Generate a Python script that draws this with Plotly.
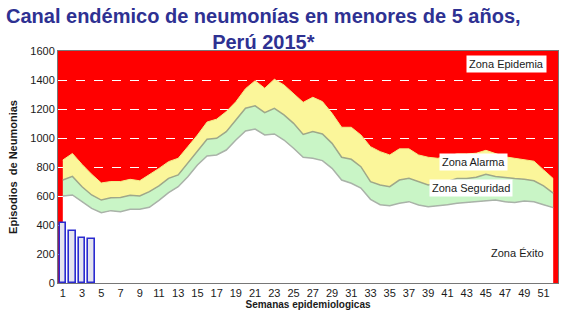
import plotly.graph_objects as go

# Semanas epidemiológicas
semanas = list(range(1, 53))

# Límite superior de la zona de éxito (percentil inferior)
limite_exito = [600, 607, 561, 515, 485, 499, 492, 508, 508, 522,
                570, 623, 664, 733, 814, 876, 883, 917, 986, 1048,
                1062, 1021, 1028, 986, 929, 867, 860, 844, 791, 710,
                688, 655, 577, 540, 533, 550, 561, 538, 526, 531,
                540, 550, 555, 560, 570, 572, 560, 555, 565, 560,
                540, 520]

# Límite superior de la zona de seguridad (mediana)
limite_seguridad = [710, 735, 664, 607, 572, 588, 590, 605, 600, 630,
                    670, 722, 745, 826, 906, 991, 998, 1044, 1124, 1205,
                    1222, 1175, 1205, 1159, 1101, 1025, 1044, 1028, 963, 867,
                    853, 802, 699, 676, 664, 710, 722, 699, 676, 690,
                    700, 720, 720, 730, 750, 735, 725, 720, 715, 705,
                    670, 620]

# Límite superior de la zona de alarma (umbral epidémico)
limite_alarma = [848, 893, 818, 750, 690, 700, 700, 715, 705, 745,
                 790, 837, 860, 940, 1020, 1110, 1130, 1182, 1250, 1340,
                 1395, 1343, 1405, 1366, 1308, 1246, 1281, 1251, 1170, 1074,
                 1074, 1021, 940, 906, 883, 925, 925, 883, 867, 860,
                 875, 890, 890, 895, 915, 890, 870, 860, 850, 840,
                 780, 720]

# Episodios notificados en 2015
semanas_2015 = [1, 2, 3, 4]
casos_2015 = [416, 359, 313, 301]

tick_semanas = list(range(1, 52, 2))

FONT = "Liberation Sans"
X_RANGE = [0.5, 52.5]
Y_RANGE = [0, 1600]

fig = go.Figure()

# Zonas del canal endémico (áreas apiladas sobre fondo rojo = epidemia)
fig.add_trace(go.Scatter(
    x=semanas, y=limite_exito, mode="lines", fill="tozeroy",
    fillcolor="#ffffff", line=dict(color="#a9b3a9", width=1.5),
    hoverinfo="skip", showlegend=False))
fig.add_trace(go.Scatter(
    x=semanas, y=limite_seguridad, mode="lines", fill="tonexty",
    fillcolor="#c9f5c6", line=dict(color="#9ea88a", width=1.5),
    hoverinfo="skip", showlegend=False))
fig.add_trace(go.Scatter(
    x=semanas, y=limite_alarma, mode="lines", fill="tonexty",
    fillcolor="#fbf69a", line=dict(color="#f3ec8a", width=1),
    hoverinfo="skip", showlegend=False))

# Barras de casos en un eje superpuesto para quedar encima de las áreas
fig.add_trace(go.Bar(
    x=semanas_2015, y=casos_2015, width=0.66,
    xaxis="x2", yaxis="y2",
    marker=dict(color="#e4e4ee", line=dict(color="#2a2ad0", width=1.6)),
    showlegend=False))

def zona(texto, x, y, caja=True):
    return dict(text=texto, x=x, y=y, xref="x", yref="y", showarrow=False,
                font=dict(family=FONT, size=11, color="#1a1a1a"),
                bgcolor="#ffffff" if caja else None, borderpad=2)

titulo = dict(
    text="Canal endémico de neumonías en menores de 5 años,<br>Perú 2015*",
    xref="paper", yref="paper", x=0.41, y=1.093,
    xanchor="center", yanchor="middle", showarrow=False,
    font=dict(family=FONT, size=20, color="#2e3192", weight="bold"))

fig.update_layout(
    width=568, height=320,
    margin=dict(l=58, r=10, t=51, b=37),
    paper_bgcolor="#ffffff",
    plot_bgcolor="#ff0000",
    xaxis=dict(
        range=X_RANGE, tickvals=tick_semanas, ticks="",
        showgrid=False, zeroline=False,
        showline=True, linecolor="#777777", linewidth=1, mirror=True,
        tickfont=dict(family=FONT, size=11, color="#1a1a1a"),
        title=dict(text="Semanas epidemiologicas", standoff=2,
                   font=dict(family=FONT, size=10, color="#1a1a1a", weight="bold"))),
    yaxis=dict(
        range=Y_RANGE, dtick=200, ticks="",
        showgrid=True, gridcolor="#ffffff", griddash="dash", gridwidth=1,
        zeroline=False,
        showline=True, linecolor="#777777", linewidth=1, mirror=True,
        tickfont=dict(family=FONT, size=11, color="#1a1a1a"),
        title=dict(text="Episodios  de Neumonias", standoff=10,
                   font=dict(family=FONT, size=11, color="#1a1a1a", weight="bold"))),
    xaxis2=dict(range=X_RANGE, overlaying="x", visible=False),
    yaxis2=dict(range=Y_RANGE, overlaying="y", visible=False),
    bargap=0,
    annotations=[
        titulo,
        zona("Zona Epidemia", 47.1, 1510),
        zona("Zona Alarma", 43.7, 834),
        zona("Zona Seguridad", 43.5, 655),
        zona("Zona Éxito", 48.3, 207, caja=False),
    ],
)

fig.write_html("out.html")
